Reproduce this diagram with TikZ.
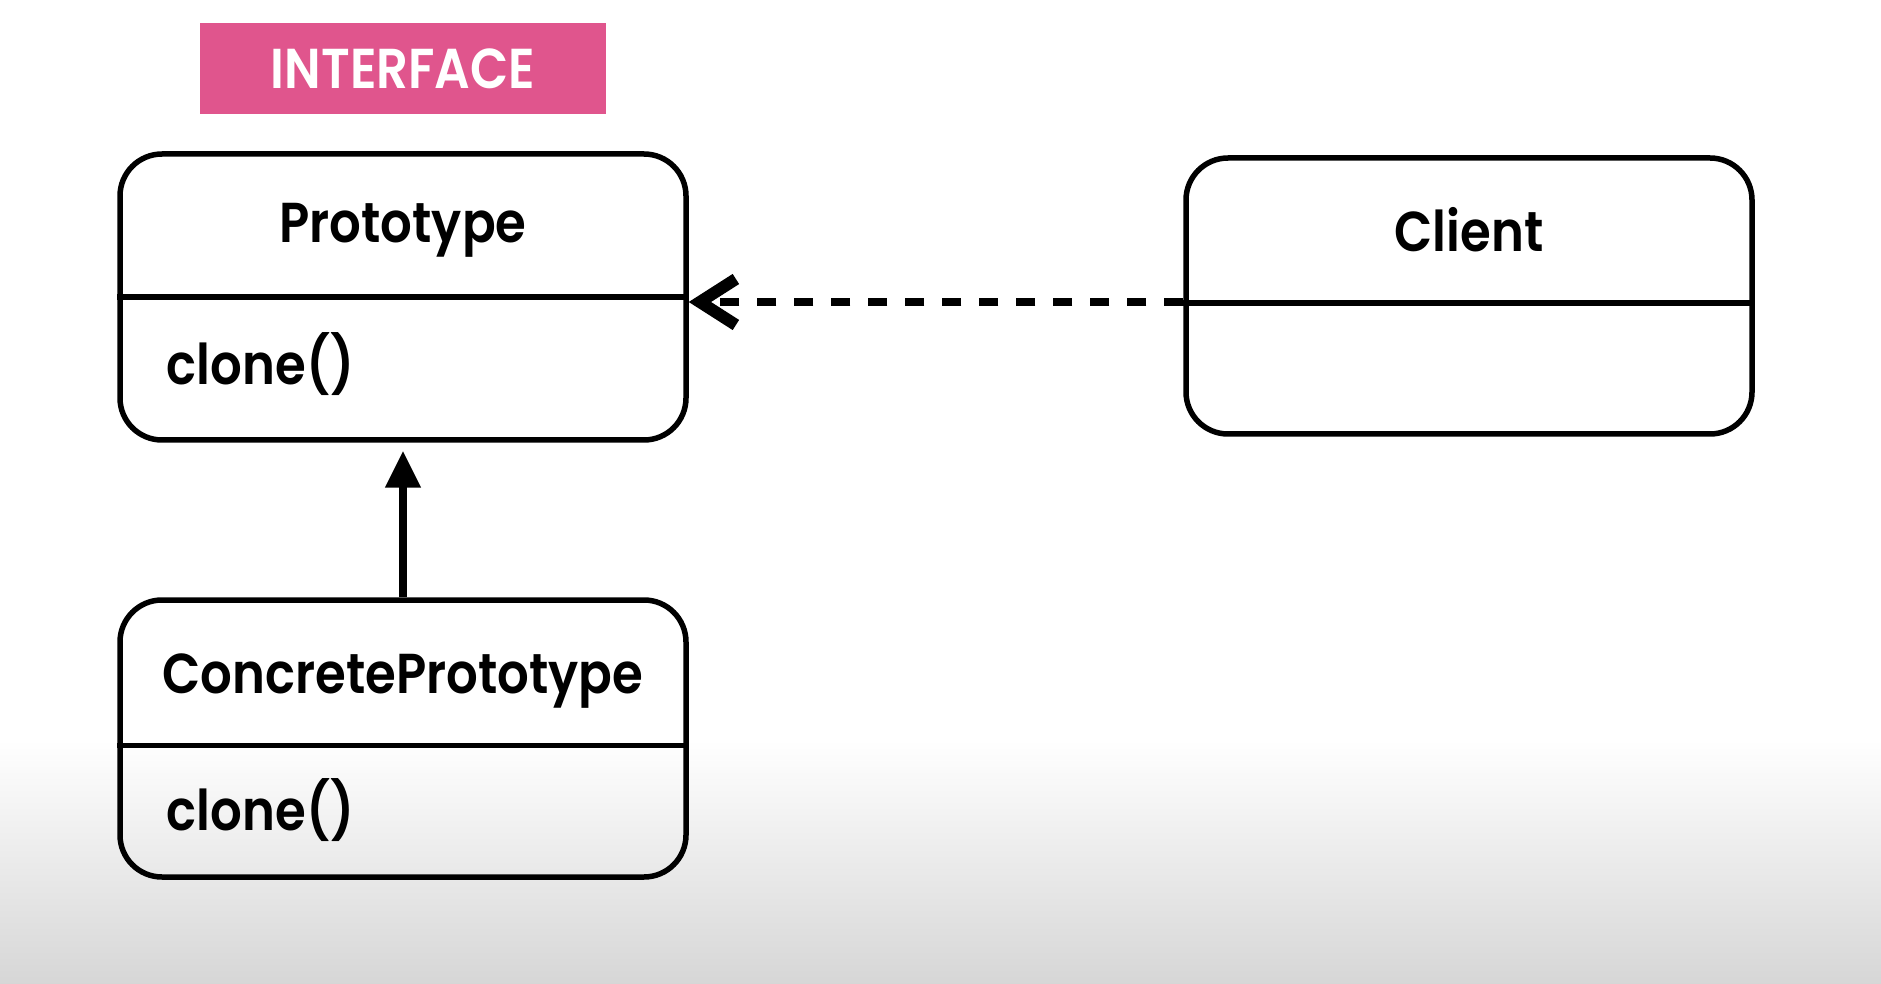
\documentclass[tikz,border=0pt]{standalone}
\usepackage{fontspec}
\setmainfont{Poppins SemiBold}[FakeStretch=0.885]
\usetikzlibrary{arrows.meta,positioning}
\definecolor{ifacepink}{RGB}{224,85,141}

\begin{document}
\begin{tikzpicture}[x=0.1mm,y=-0.1mm]

	\tikzstyle{classbox}=[rectangle,rounded corners=4.2mm,draw=black,line width=0.55mm,
		minimum width=56.6mm,inner sep=0pt]
	\tikzstyle{classname}=[font=\fontsize{16}{19}\selectfont,inner sep=0pt]
	\tikzstyle{method}=[font=\fontsize{16}{19}\selectfont,inner sep=0pt,anchor=west]
	\tikzstyle{divider}=[line width=0.55mm]

	% background
	\fill[white] (0,0) rectangle (1881,984);
	\shade[top color=white,bottom color=black!16] (0,740) rectangle (1881,984);
	\useasboundingbox (0,0) rectangle (1881,984);

	\node[fill=ifacepink,minimum width=40.6mm,minimum height=9.1mm,text=white,
		font=\fontsize{16}{19}\selectfont]	(iface)	at (403,69)	{INTERFACE};

	\node[classbox,minimum height=28.6mm]	(proto)	at (403,297)	{};
	\node[classbox,minimum height=27.6mm]	(client)	at (1469,296)	{};
	\node[classbox,minimum height=27.7mm]	(concrete)	at (403,738.5)	{};

	\draw[divider] ([yshift=-14.6mm]proto.north west) -- ([yshift=-14.6mm]proto.north east);
	\draw[divider] ([yshift=-14.8mm]client.north west) -- ([yshift=-14.8mm]client.north east);
	\draw[divider] ([yshift=-14.8mm]concrete.north west) -- ([yshift=-14.8mm]concrete.north east);

	\node[classname]	(protoname)	at ([yshift=-7.9mm]proto.north)	{Prototype};
	\node[classname]	(clientname)	at ([yshift=-7.4mm]client.north)	{Client};
	\node[classname]	(concretename)	at ([yshift=-8.4mm]concrete.north)	{ConcretePrototype};

	\node[method]	(protoclone)	at ([xshift=4.9mm,yshift=-6.7mm]proto.west)	{clone()};
	\node[method]	(concreteclone)	at ([xshift=4.9mm,yshift=-7.2mm]concrete.west)	{clone()};

	\draw[-{Straight Barb[length=3.6mm,width=4.6mm,line width=1.2mm]},line width=0.8mm,dash pattern=on 1.9mm off 1.8mm]
		([yshift=-0.6mm]client.west) to ([yshift=-0.6mm]client.west -| proto.east);
	\draw[-{Triangle[length=3.7mm,width=3.4mm]},line width=0.8mm,shorten >=0.8mm] (concrete.north) to (proto.south);

\end{tikzpicture}
\end{document}
